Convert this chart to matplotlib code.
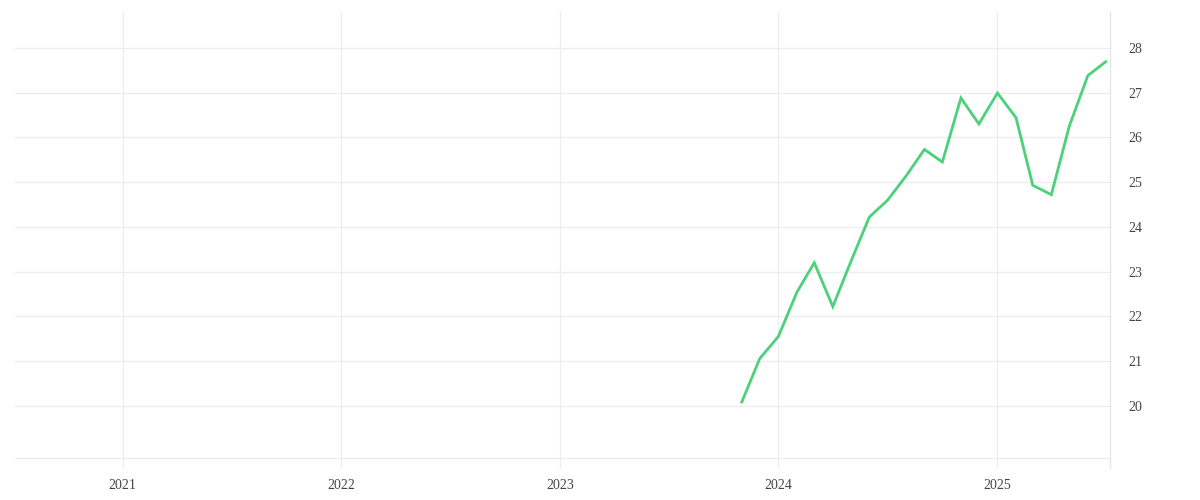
import matplotlib
matplotlib.use("Agg")
import matplotlib.pyplot as plt
import matplotlib.dates as mdates
import pandas as pd
import datetime as dt

dates = pd.date_range("2023-11-01", "2025-07-01", freq="MS")
values = [20.09, 21.06, 21.55, 22.54, 23.20, 22.22, 23.22, 24.22, 24.59, 25.13,
          25.73, 25.45, 26.88, 26.30, 26.99, 26.44, 24.93, 24.72, 26.25, 27.38, 27.69]
year_ticks = [dt.datetime(y, 1, 1) for y in [2021, 2022, 2023, 2024, 2025]]
year_labels = ["2021", "2022", "2023", "2024", "2025"]
y_ticks = [20, 21, 22, 23, 24, 25, 26, 27, 28]

plt.rcParams['font.family'] = ['Liberation Serif', 'DejaVu Serif']

fig = plt.figure(figsize=(12, 5), dpi=100)
ax = fig.add_axes([0.0125, 0.064, 0.9125, 0.912])

grid_c = "#ededed"
ax.plot(dates, values, color="#4bd17a", linewidth=2.0, solid_joinstyle="miter")

ax.set_xlim(dt.datetime(2020, 7, 5), dt.datetime(2025, 7, 8))
ax.set_ylim(18.615, 28.80)
ax.set_xticks(year_ticks)
ax.set_xticklabels(year_labels)
ax.set_yticks(y_ticks)
ax.yaxis.tick_right()
ax.grid(True, color=grid_c, linewidth=0.9)
ax.axhline(18.84, color=grid_c, linewidth=0.9)
for s in ["top", "left", "bottom"]:
    ax.spines[s].set_visible(False)
ax.spines["right"].set_color("#e4e4e4")
ax.spines["right"].set_linewidth(0.9)
ax.tick_params(axis="both", length=0, labelsize=10, colors="#444444")
ax.tick_params(axis="y", pad=13)
ax.tick_params(axis="x", pad=8)
for lbl in ax.get_yticklabels():
    lbl.set_va("center_baseline")

fig.savefig("out.png", dpi=100, facecolor="white")
